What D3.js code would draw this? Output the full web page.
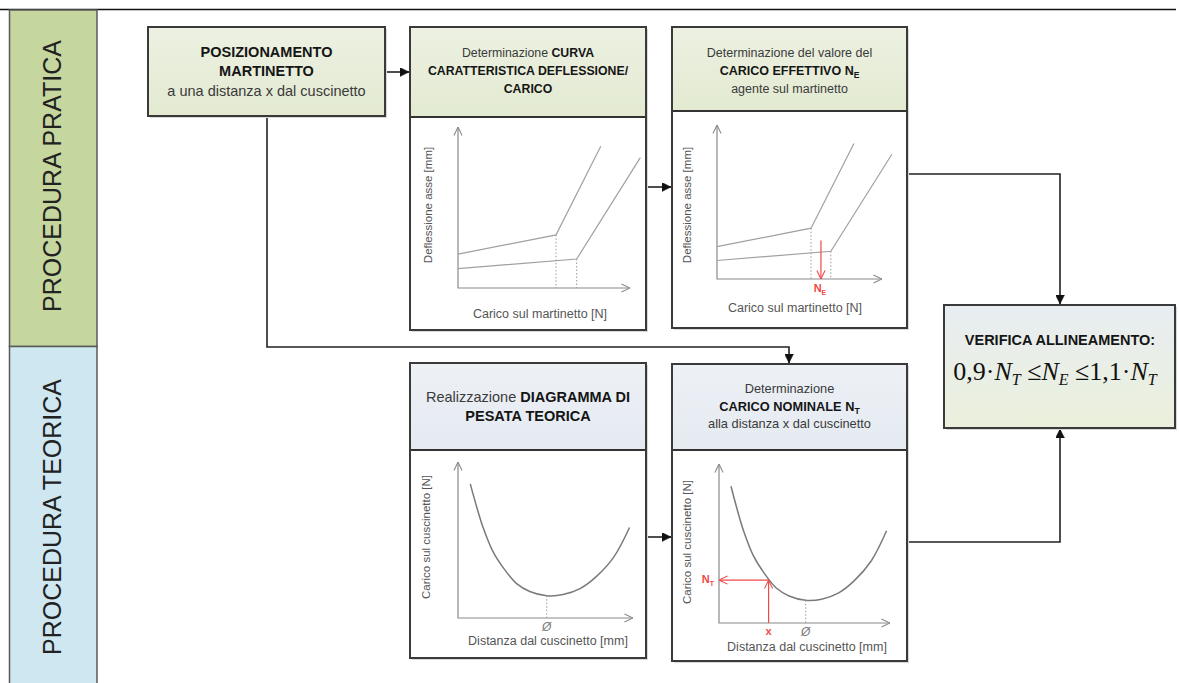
<!DOCTYPE html>
<html>
<head>
<meta charset="utf-8">
<script src="https://cdn.jsdelivr.net/npm/d3@7"></script>
<style>
  body { margin: 0; background: #fff; }
  svg { display: block; }
  text { font-family: "Liberation Sans", Arial, sans-serif; }
</style>
</head>
<body>
<script>
// ---- values (axes normalised to 0..100) ----
const laneLabels = ['PROCEDURA PRATICA', 'PROCEDURA TEORICA']

// deflection / load characteristic, two broken lines
const upperLoad = [0, 57, 83]
const upperDefl = [21, 33, 88]
const lowerLoad = [0, 69, 106]
const lowerDefl = [12, 18, 81]
const effectiveLoad = 63      // N_E on the load axis
const effectiveFrom = 25      // red arrow starts here

// theoretical weighing diagram
const distance = [7, 11, 14.5, 20, 26, 33.5, 41, 50.7, 60, 70, 79, 89, 98]
const bearingLoad = [86, 70, 57.5, 42.5, 32, 22, 17, 14.3, 15, 19, 26.5, 39, 58]
const minDistance = 50.7      // Ø
const jackDistance = 29       // x
const nominalLoad = 27        // N_T

// header texts: [text, bold?, subscript?]
const hdrPosiz = [[['POSIZIONAMENTO', 1]], [['MARTINETTO', 1]], [['a una distanza x dal cuscinetto', 0]]]
const hdrCurva = [[['Determinazione ', 0], ['CURVA', 1]], [['CARATTERISTICA DEFLESSIONE/', 1]], [['CARICO', 1]]]
const hdrEffettivo = [[['Determinazione del valore del', 0]], [['CARICO EFFETTIVO N', 1], ['E', 1, 1]], [['agente sul martinetto', 0]]]
const hdrPesata = [[['Realizzazione ', 0], ['DIAGRAMMA DI', 1]], [['PESATA TEORICA', 1]]]
const hdrNominale = [[['Determinazione', 0]], [['CARICO NOMINALE N', 1], ['T', 1, 1]], [['alla distanza x dal cuscinetto', 0]]]
const verificaTitle = 'VERIFICA ALLINEAMENTO:'

const deflAxisX = 'Carico sul martinetto [N]'
const deflAxisY = 'Deflessione asse [mm]'
const weighAxisX = 'Distanza dal cuscinetto [mm]'
const weighAxisY = 'Carico sul cuscinetto [N]'

// ---- drawing ----
const width = 1179
const height = 683
const red = '#f04848'

const svg = d3.select('body').append('svg')
  .attr('width', width)
  .attr('height', height)

const defs = svg.append('defs')

function marker(id, color, open) {
  const m = defs.append('marker')
    .attr('id', id)
    .attr('viewBox', '0 0 10 10')
    .attr('refX', open ? 9.5 : 10)
    .attr('refY', 5)
    .attr('markerUnits', 'userSpaceOnUse')
    .attr('markerWidth', 9)
    .attr('markerHeight', open ? 11 : 9)
    .attr('orient', 'auto-start-reverse')
  m.append('path')
    .attr('d', open ? 'M0,0.5 L9.5,5 L0,9.5' : 'M0,0 L10,5 L0,10 Z')
    .attr('fill', open ? 'none' : color)
    .attr('stroke', color)
    .attr('stroke-width', open ? 1.2 : 0.5)
}
marker('head', '#111', false)
marker('open', '#8a8a8a', true)
marker('openRed', red, true)

function gradient(id, top, bottom) {
  const g = defs.append('linearGradient')
    .attr('id', id)
    .attr('x1', 0).attr('y1', 0).attr('x2', 0).attr('y2', 1)
  g.append('stop').attr('offset', '0%').attr('stop-color', top)
  g.append('stop').attr('offset', '100%').attr('stop-color', bottom)
}
gradient('green', '#ecf1e2', '#e3ead1')
gradient('blue', '#edf1f6', '#e5eaf1')
gradient('verifica', '#e8edf2', '#ebf0dc')

// top rule
svg.append('line')
  .attr('x1', 0).attr('x2', 1176)
  .attr('y1', 9.5).attr('y2', 9.5)
  .attr('stroke', '#111')
  .attr('stroke-width', 1.6)

// lanes on the left
const lanes = [
  { y: 10, h: 336.5, fill: '#c5d69f', cy: 176 },
  { y: 346.5, h: 345, fill: '#cfe7f0', cy: 517 }
]
lanes.forEach((l, i) => {
  svg.append('rect')
    .attr('x', 9.5).attr('y', l.y)
    .attr('width', 87.5).attr('height', l.h)
    .attr('fill', l.fill)
    .attr('stroke', '#5a5a5a')
    .attr('stroke-width', 1.5)
  svg.append('text')
    .attr('transform', `translate(61, ${l.cy}) rotate(-90)`)
    .attr('text-anchor', 'middle')
    .attr('font-size', 25)
    .attr('fill', '#222')
    .text(laneLabels[i])
})

// connectors (under boxes)
const connectors = [
  'M385,72 H409',
  'M646,187 H671',
  'M907,174 H1060 V304',
  'M267,116 V347 H789 V363',
  'M646,537 H671',
  'M907,542 H1060 V429'
]
svg.selectAll('.conn')
  .data(connectors)
  .join('path')
  .attr('class', 'conn')
  .attr('d', d => d)
  .attr('fill', 'none')
  .attr('stroke', '#222')
  .attr('stroke-width', 1.6)
  .attr('marker-end', 'url(#head)')

function box(b) {
  const g = svg.append('g')
  g.append('rect')
    .attr('x', b.x + 2).attr('y', b.y + 2)
    .attr('width', b.w).attr('height', b.h)
    .attr('fill', '#d8d8d8')
  g.append('rect')
    .attr('x', b.x).attr('y', b.y)
    .attr('width', b.w).attr('height', b.h)
    .attr('fill', '#fff')
  g.append('rect')
    .attr('x', b.x).attr('y', b.y)
    .attr('width', b.w).attr('height', b.head || b.h)
    .attr('fill', `url(#${b.fill})`)
  if (b.head) {
    g.append('line')
      .attr('x1', b.x).attr('x2', b.x + b.w)
      .attr('y1', b.y + b.head).attr('y2', b.y + b.head)
      .attr('stroke', '#333')
      .attr('stroke-width', 2)
  }
  g.append('rect')
    .attr('x', b.x).attr('y', b.y)
    .attr('width', b.w).attr('height', b.h)
    .attr('fill', 'none')
    .attr('stroke', '#3a3a3a')
    .attr('stroke-width', 2)
  return g
}

function headerText(g, lines, cx, baselines, size) {
  lines.forEach((segs, i) => {
    const t = g.append('text')
      .attr('x', cx)
      .attr('y', baselines[i])
      .attr('text-anchor', 'middle')
      .attr('font-size', size)
    segs.forEach(s => {
      const ts = t.append('tspan')
        .text(s[0])
        .attr('font-weight', s[1] ? 'bold' : 'normal')
        .attr('fill', s[1] ? '#151515' : '#3a3a3a')
      if (s[2]) ts.attr('font-size', size * 0.68).attr('dy', 3)
    })
  })
}

const g1 = box({ x: 148, y: 27, w: 237, h: 89, fill: 'green' })
headerText(g1, hdrPosiz, 266.5, [57, 76, 96], 14.5)

const g2 = box({ x: 410, y: 27, w: 236, h: 303, head: 90, fill: 'green' })
headerText(g2, hdrCurva, 528, [57, 75, 93], 12.3)

const g3 = box({ x: 672, y: 27, w: 235, h: 301, head: 84, fill: 'green' })
headerText(g3, hdrEffettivo, 789.5, [57, 75, 93], 12.5)

const g4 = box({ x: 410, y: 363, w: 236, h: 295, head: 87, fill: 'blue' })
headerText(g4, hdrPesata, 528, [402, 421], 14.5)

const g5 = box({ x: 672, y: 364, w: 235, h: 297, head: 86, fill: 'blue' })
headerText(g5, hdrNominale, 789.5, [393, 411, 428], 12.8)

const gv = box({ x: 944, y: 305, w: 231, h: 123, fill: 'verifica' })
gv.append('text')
  .attr('x', 1060).attr('y', 345)
  .attr('text-anchor', 'middle')
  .attr('font-size', 14.5)
  .attr('font-weight', 'bold')
  .attr('fill', '#151515')
  .text(verificaTitle)

const formula = gv.append('text')
  .attr('x', 1055).attr('y', 380)
  .attr('text-anchor', 'middle')
  .attr('font-size', 26)
  .attr('fill', '#111')
  .style('font-family', '"Liberation Serif", "Times New Roman", serif')
const parts = [
  ['0,9\u00b7', 0], ['N', 1], ['T', 2], [' \u2264', 0], ['N', 1], ['E', 2], [' \u22641,1\u00b7', 0], ['N', 1], ['T', 2]
]
parts.forEach((p, i) => {
  const ts = formula.append('tspan').text(p[0])
  if (p[1]) ts.attr('font-style', 'italic')
  if (p[1] === 2) ts.attr('font-size', 16).attr('dy', 5)
  else if (i > 0 && parts[i - 1][1] === 2) ts.attr('dy', -5)
})

// ---- small diagrams ----
function frame(c) {
  const x = d3.scaleLinear().domain([0, 100]).range([c.ox, c.xEnd])
  const y = d3.scaleLinear().domain([0, 100]).range([c.oy, c.yTop])
  const g = svg.append('g')
  g.append('path')
    .attr('d', `M${x(0)},${y(100)} V${y(0)} H${x(100)}`)
    .attr('fill', 'none')
    .attr('stroke', '#8a8a8a')
    .attr('stroke-width', 1.2)
    .attr('marker-start', 'url(#open)')
    .attr('marker-end', 'url(#open)')
  g.append('text')
    .attr('x', c.lx).attr('y', c.ly)
    .attr('text-anchor', 'middle')
    .attr('font-size', 12.5)
    .attr('fill', '#555')
    .text(c.xLabel)
  g.append('text')
    .attr('transform', `translate(${c.yx}, ${c.yy}) rotate(-90)`)
    .attr('text-anchor', 'middle')
    .attr('dominant-baseline', 'middle')
    .attr('font-size', 11.5)
    .attr('fill', '#555')
    .text(c.yLabel)
  return { g, x, y }
}

function dotted(g, x0, y0, y1) {
  g.append('line')
    .attr('x1', x0).attr('x2', x0)
    .attr('y1', y0).attr('y2', y1)
    .attr('stroke', '#9a9a9a')
    .attr('stroke-width', 1)
    .attr('stroke-dasharray', '1.5,2')
}

function deflectionChart(c) {
  const { g, x, y } = frame(c)
  const line = d3.line().x(d => x(d[0])).y(d => y(d[1]))
  const series = [d3.zip(upperLoad, upperDefl), d3.zip(lowerLoad, lowerDefl)]
  g.selectAll('.defl')
    .data(series)
    .join('path')
    .attr('class', 'defl')
    .attr('d', line)
    .attr('fill', 'none')
    .attr('stroke', '#a0a0a0')
    .attr('stroke-width', 1.2)
  series.forEach(s => dotted(g, x(s[1][0]), y(s[1][1]), y(0)))
  return { g, x, y }
}

function weighingChart(c) {
  const { g, x, y } = frame(c)
  const line = d3.line().x(d => x(d[0])).y(d => y(d[1])).curve(d3.curveCatmullRom)
  g.append('path')
    .attr('d', line(d3.zip(distance, bearingLoad)))
    .attr('fill', 'none')
    .attr('stroke', '#7a7a7a')
    .attr('stroke-width', 1.5)
  const minLoad = d3.min(bearingLoad)
  dotted(g, x(minDistance), y(minLoad), y(0))
  g.append('text')
    .attr('x', x(minDistance)).attr('y', y(0) + 13)
    .attr('text-anchor', 'middle')
    .attr('font-size', 12)
    .attr('font-style', 'italic')
    .attr('fill', '#777')
    .text('\u00d8')
  return { g, x, y }
}

deflectionChart({ ox: 458, oy: 288, xEnd: 630, yTop: 127, lx: 540, ly: 318, yx: 429, yy: 205, xLabel: deflAxisX, yLabel: deflAxisY })

const c3 = deflectionChart({ ox: 717, oy: 279, xEnd: 882, yTop: 125, lx: 795, ly: 312, yx: 688, yy: 205, xLabel: deflAxisX, yLabel: deflAxisY })
c3.g.append('line')
  .attr('x1', c3.x(effectiveLoad)).attr('x2', c3.x(effectiveLoad))
  .attr('y1', c3.y(effectiveFrom)).attr('y2', c3.y(0))
  .attr('stroke', red)
  .attr('stroke-width', 1.2)
  .attr('marker-end', 'url(#openRed)')
const ne = c3.g.append('text')
  .attr('x', c3.x(effectiveLoad) - 1).attr('y', c3.y(0) + 13)
  .attr('text-anchor', 'middle')
  .attr('font-size', 11)
  .attr('font-weight', 'bold')
  .attr('fill', red)
ne.append('tspan').text('N')
ne.append('tspan').text('E').attr('font-size', 7).attr('dy', 3)

weighingChart({ ox: 458, oy: 618, xEnd: 633, yTop: 462, lx: 548, ly: 645, yx: 427, yy: 537, xLabel: weighAxisX, yLabel: weighAxisY })

const c5 = weighingChart({ ox: 719, oy: 623, xEnd: 890, yTop: 464, lx: 807, ly: 651, yx: 688, yy: 542, xLabel: weighAxisX, yLabel: weighAxisY })
c5.g.append('path')
  .attr('d', `M${c5.x(jackDistance)},${c5.y(0)} V${c5.y(nominalLoad)}`)
  .attr('fill', 'none')
  .attr('stroke', red)
  .attr('stroke-width', 1.2)
  .attr('marker-end', 'url(#openRed)')
c5.g.append('path')
  .attr('d', `M${c5.x(jackDistance)},${c5.y(nominalLoad)} H${c5.x(0)}`)
  .attr('fill', 'none')
  .attr('stroke', red)
  .attr('stroke-width', 1.2)
  .attr('marker-end', 'url(#openRed)')
c5.g.append('text')
  .attr('x', c5.x(jackDistance)).attr('y', c5.y(0) + 12)
  .attr('text-anchor', 'middle')
  .attr('font-size', 11)
  .attr('font-weight', 'bold')
  .attr('fill', red)
  .text('x')
const nt = c5.g.append('text')
  .attr('x', c5.x(0) - 5).attr('y', c5.y(nominalLoad) + 3)
  .attr('text-anchor', 'end')
  .attr('font-size', 11)
  .attr('font-weight', 'bold')
  .attr('fill', red)
nt.append('tspan').text('N')
nt.append('tspan').text('T').attr('font-size', 7).attr('dy', 3)
</script>
</body>
</html>
